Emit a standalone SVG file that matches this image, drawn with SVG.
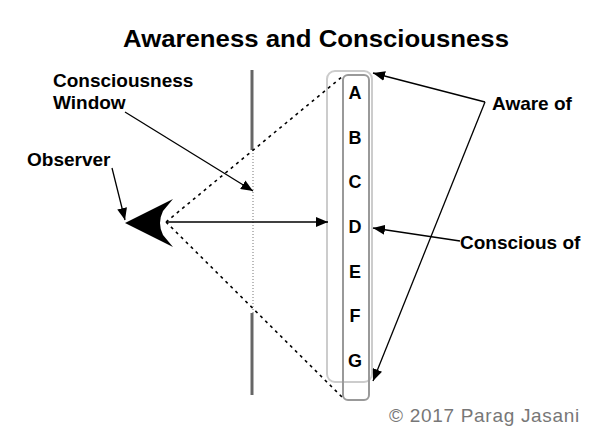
<svg xmlns="http://www.w3.org/2000/svg" width="610" height="427" viewBox="0 0 610 427">
<defs>
<style>
.t{font-family:"Liberation Sans",Arial,sans-serif;font-weight:bold;fill:#000}
.lbl{font-size:19px}
.let{font-size:18px;text-anchor:middle}
.ln{stroke:#000;stroke-width:1.3;fill:none}
.dash{stroke:#000;stroke-width:1.6;stroke-dasharray:3 4;fill:none}
</style>
<marker id="ah" viewBox="0 0 12 10" refX="12" refY="5" markerWidth="12" markerHeight="10" markerUnits="userSpaceOnUse" orient="auto">
<path d="M0,0 L12,5 L0,10 Z" fill="#000"/>
</marker>
</defs>
<rect width="610" height="427" fill="#fff"/>
<text class="t" x="316" y="47" font-size="24" text-anchor="middle" textLength="386" lengthAdjust="spacingAndGlyphs">Awareness and Consciousness</text>

<g id="wall">
<line x1="252" y1="70" x2="252" y2="150" stroke="#666" stroke-width="3"/>
<line x1="252" y1="313" x2="252" y2="395" stroke="#666" stroke-width="3"/>
<line x1="253" y1="150" x2="253" y2="313" stroke="#777" stroke-width="1" stroke-dasharray="1 2"/>
</g>

<g id="column">
<rect x="327" y="71" width="45" height="311" rx="8" fill="none" stroke="#ccc" stroke-width="2"/>
<rect x="343" y="75" width="26" height="325" rx="5" fill="none" stroke="#999" stroke-width="2"/>
<text class="t let" x="355" y="99">A</text>
<text class="t let" x="355" y="144">B</text>
<text class="t let" x="355" y="188">C</text>
<text class="t let" x="355" y="233">D</text>
<text class="t let" x="355" y="278">E</text>
<text class="t let" x="355" y="322">F</text>
<text class="t let" x="355" y="367">G</text>
</g>

<g id="observer">
<path d="M125,223 L173,199 L163,211 Q157,223 163,235 L173,247 Z" fill="#000"/>
<text class="t lbl" x="27" y="166">Observer</text>
</g>

<g id="window-label">
<text class="t lbl" x="53" y="87">Consciousness</text>
<text class="t lbl" x="53" y="109">Window</text>
</g>

<g id="aware-label">
<text class="t lbl" x="492" y="110">Aware of</text>
</g>

<g id="conscious-label">
<text class="t lbl" x="460" y="249">Conscious of</text>
</g>

<g id="copyright">
<text x="389" y="422" font-family="'Liberation Sans',Arial,sans-serif" font-size="19" fill="#777" letter-spacing="0.7">© 2017 Parag Jasani</text>
</g>

<g id="connectors">
<line class="dash" x1="166" y1="222" x2="343" y2="76"/>
<line class="dash" x1="166" y1="222" x2="343" y2="398"/>
<line class="ln" x1="166" y1="222" x2="328" y2="222" marker-end="url(#ah)"/>
<line class="ln" x1="112" y1="168" x2="125" y2="220" marker-end="url(#ah)"/>
<line class="ln" x1="125" y1="112" x2="253" y2="191" marker-end="url(#ah)"/>
<line class="ln" x1="485" y1="102" x2="373" y2="73" marker-end="url(#ah)"/>
<line class="ln" x1="485" y1="102" x2="373" y2="381" marker-end="url(#ah)"/>
<line class="ln" x1="460" y1="241" x2="373" y2="228" marker-end="url(#ah)"/>
</g>
</svg>
